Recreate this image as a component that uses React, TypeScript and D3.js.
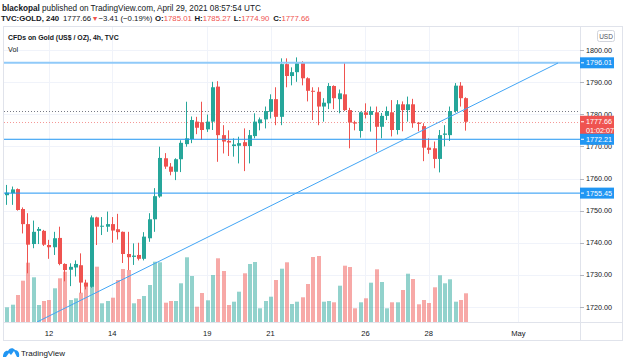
import React from "react";
import * as d3 from "d3";

// 4h candles, TVC:GOLD, Apr 9 - Apr 29 2021
const opens = [
  1754.8, 1755.4, 1756.7, 1750.5, 1745.8, 1739.6, 1743.7, 1743.7, 1739.3, 1738.6,
  1741.5, 1733.4, 1731.6, 1732.3, 1733.0, 1727.6, 1726.3, 1747.9, 1745.0, 1745.0,
  1745.8, 1744.2, 1743.4, 1736.5, 1735.6, 1736.2, 1735.0, 1741.4, 1747.3, 1754.4,
  1766.3, 1763.7, 1762.1, 1766.0, 1770.7, 1772.3, 1777.7, 1777.5, 1775.3, 1777.7,
  1788.6, 1773.5, 1771.7, 1770.1, 1770.2, 1771.3, 1770.1, 1773.2, 1777.2, 1778.4,
  1780.8, 1784.7, 1779.2, 1795.6, 1791.9, 1793.1, 1796.2, 1791.2, 1787.3, 1787.0,
  1782.4, 1783.4, 1788.8, 1784.7, 1786.2, 1781.3, 1777.5, 1774.8, 1780.6, 1779.8,
  1780.6, 1776.1, 1779.5, 1780.6, 1775.1, 1783.1, 1781.3, 1783.1, 1777.4, 1776.3,
  1769.6, 1769.4, 1766.1, 1773.6, 1773.5, 1781.0, 1788.9, 1785.01,
];
const highs = [
  1758.0, 1757.5, 1756.9, 1751.0, 1749.2, 1746.9, 1744.9, 1744.0, 1740.9, 1743.4,
  1745.0, 1733.6, 1733.6, 1734.5, 1736.7, 1728.5, 1748.5, 1748.1, 1748.0, 1749.7,
  1748.0, 1749.0, 1743.5, 1743.4, 1739.8, 1740.0, 1743.3, 1749.2, 1757.0, 1769.9,
  1767.9, 1764.8, 1766.3, 1771.9, 1783.9, 1779.3, 1779.2, 1783.9, 1779.9, 1790.1,
  1790.3, 1776.6, 1775.0, 1772.5, 1773.0, 1775.6, 1775.1, 1780.3, 1779.0, 1782.4,
  1786.2, 1788.4, 1797.4, 1797.4, 1794.6, 1797.7, 1796.5, 1791.5, 1788.4, 1788.4,
  1785.0, 1789.7, 1789.0, 1787.7, 1796.2, 1782.0, 1778.0, 1780.8, 1783.4, 1782.4,
  1782.4, 1780.4, 1782.4, 1784.4, 1784.4, 1784.0, 1785.5, 1784.8, 1777.6, 1777.2,
  1772.5, 1771.5, 1775.1, 1776.6, 1782.4, 1789.7, 1790.0, 1785.27,
];
const lows = [
  1751.8, 1751.8, 1750.0, 1742.9, 1730.5, 1738.3, 1739.6, 1739.0, 1735.0, 1736.2,
  1733.0, 1728.0, 1726.5, 1729.5, 1724.3, 1725.5, 1726.0, 1739.3, 1742.4, 1743.4,
  1740.0, 1741.0, 1733.7, 1731.5, 1733.1, 1734.5, 1734.5, 1740.3, 1743.4, 1754.0,
  1763.0, 1761.0, 1759.5, 1762.0, 1769.9, 1771.0, 1773.8, 1772.0, 1774.5, 1775.1,
  1765.2, 1767.8, 1767.0, 1766.8, 1764.7, 1762.3, 1764.7, 1772.5, 1775.0, 1775.6,
  1778.7, 1776.6, 1776.6, 1788.4, 1789.0, 1790.1, 1789.0, 1784.0, 1778.2, 1776.6,
  1777.7, 1781.6, 1781.6, 1780.3, 1781.0, 1769.4, 1775.0, 1772.7, 1778.7, 1774.6,
  1768.3, 1772.5, 1778.2, 1773.1, 1773.7, 1774.7, 1777.7, 1775.8, 1774.7, 1765.4,
  1767.7, 1763.2, 1761.9, 1770.0, 1771.7, 1780.5, 1782.4, 1774.90,
];
const closes = [
  1755.6, 1756.6, 1750.2, 1745.8, 1739.4, 1743.4, 1744.3, 1739.4, 1738.6, 1741.4,
  1733.4, 1731.5, 1732.5, 1733.4, 1727.6, 1726.3, 1747.9, 1745.0, 1745.3, 1745.8,
  1743.8, 1743.3, 1736.5, 1735.5, 1736.0, 1735.0, 1741.9, 1747.3, 1754.5, 1766.4,
  1763.7, 1762.1, 1766.0, 1771.1, 1772.5, 1778.2, 1775.8, 1775.1, 1777.7, 1788.4,
  1773.5, 1771.5, 1771.2, 1770.6, 1771.0, 1770.1, 1773.5, 1777.7, 1778.4, 1781.0,
  1784.7, 1779.2, 1795.6, 1791.9, 1793.1, 1795.9, 1791.2, 1787.3, 1787.0, 1782.4,
  1783.6, 1788.8, 1785.0, 1786.5, 1781.3, 1777.4, 1777.1, 1780.6, 1779.8, 1781.0,
  1776.1, 1779.5, 1781.0, 1775.1, 1783.1, 1781.3, 1783.1, 1777.2, 1777.0, 1769.6,
  1768.9, 1766.1, 1773.5, 1774.0, 1781.0, 1788.9, 1785.0, 1777.66,
];
// volume, thousands
const volumes = [
  14.7, 17.3, 27.0, 41.3, 59.3, 44.7, 17.0, 21.0, 22.0, 33.7,
  43.7, 50.3, 22.0, 23.7, 29.3, 35.3, 39.0, 55.3, 18.7, 21.0,
  24.3, 42.0, 53.0, 52.0, 18.7, 23.0, 26.0, 37.0, 60.3, 59.7,
  19.3, 21.0, 21.0, 38.7, 64.7, 46.0, 15.3, 29.0, 21.7, 47.0,
  63.7, 51.0, 17.0, 20.3, 30.3, 48.7, 58.0, 60.0, 13.7, 21.0,
  25.3, 42.0, 53.3, 59.7, 18.0, 20.3, 24.7, 38.0, 65.0, 66.0,
  20.3, 21.0, 19.7, 36.3, 56.3, 55.0, 13.7, 19.7, 23.7, 39.3,
  52.7, 40.0, 13.7, 19.7, 19.7, 32.0, 48.3, 43.0, 17.7, 22.0,
  19.0, 34.7, 46.7, 38.7, 42.7, 20.3, 22.0, 28.7,
];

const dayTickIndex = [8, 20, 38, 50, 68, 80, 97];
const dayTickLabels = ["12", "14", "19", "21", "26", "28", "May"];
const priceTicks = [1720, 1730, 1740, 1750, 1760, 1770, 1780, 1790, 1800];

const levelPrices = [1796.01, 1772.21, 1755.45];
const trendIndex = [5.73, 104.5];
const trendPrice = [1715.33, 1795.95];
const prevClose = 1781.07;
const lastPrice = 1777.66;
const countdown = "01:02:07";
const ohlcKeys = ["O:", "H:", "L:", "C:"];
const ohlcVals = ["1785.01", "1785.27", "1774.90", "1777.66"];

const UP = "#26a69a";
const DOWN = "#ef5350";
const FONT = "'Liberation Sans', Arial, sans-serif";
const TEXT = "#131722";

const PLOT = { left: 4, right: 580, top: 27, bottom: 322 };

const App = () => {
  const x = d3.scaleLinear().domain([0, 87]).range([6.8, 465.7]);
  const y = d3.scaleLinear().domain([1720, 1800]).range([307, 50]);
  const yv = d3.scaleLinear().domain([0, 100]).range([PLOT.bottom, PLOT.bottom - 100]);
  const fmt = d3.format(".2f");

  const trendLine = d3
    .line<number>()
    .x((d) => x(trendIndex[d]))
    .y((d) => y(trendPrice[d]));

  return (
    <div style={{ position: "fixed", left: 0, top: 0 }}>
      <svg width={625} height={363} style={{ display: "block", background: "#fff" }} fontFamily={FONT}>
        <defs>
          <clipPath id="plot">
            <rect x={PLOT.left} y={PLOT.top} width={PLOT.right - PLOT.left} height={PLOT.bottom - PLOT.top} />
          </clipPath>
        </defs>

        {/* header */}
        <text x={2} y={10.5} fontSize={8.2} fill={TEXT}>
          <tspan fontWeight="bold">blackopal</tspan> published on TradingView.com, April 29, 2021 08:57:54 UTC
        </text>
        <g fontSize={7.8} fill={TEXT}>
          <text x={1} y={21} fontWeight="bold">TVC:GOLD, 240</text>
          <text x={63} y={21}>{fmt(lastPrice)}</text>
          <text x={91.5} y={21} fill={DOWN} fontSize={7.2}>▼</text>
          <text x={98.5} y={21}>−3.41 (−0.19%)</text>
          {ohlcKeys.map((k, i) => (
            <text key={k} x={155 + i * 39.4} y={21}>
              <tspan fontWeight="bold">{k}</tspan>
              <tspan fill={DOWN}>{ohlcVals[i]}</tspan>
            </text>
          ))}
        </g>

        {/* frame */}
        <rect x={PLOT.left - 0.5} y={PLOT.top - 0.5} width={623 - PLOT.left} height={341 - PLOT.top} fill="none" stroke="#e0e3eb" />
        <line x1={PLOT.left} x2={623} y1={PLOT.bottom + 0.5} y2={PLOT.bottom + 0.5} stroke="#e0e3eb" />
        <line x1={PLOT.right + 0.5} x2={PLOT.right + 0.5} y1={PLOT.top} y2={341} stroke="#e0e3eb" />

        {/* grid */}
        {priceTicks.map((p) => (
          <line key={"hg" + p} x1={PLOT.left} x2={PLOT.right} y1={Math.round(y(p)) + 0.5} y2={Math.round(y(p)) + 0.5} stroke="#f0f3fa" />
        ))}
        {dayTickIndex.map((i) => (
          <line key={"vg" + i} x1={Math.round(x(i)) + 0.5} x2={Math.round(x(i)) + 0.5} y1={PLOT.top} y2={PLOT.bottom} stroke="#f0f3fa" />
        ))}

        <g clipPath="url(#plot)">
          {/* volume */}
          {volumes.map((v, i) => (
            <rect
              key={"v" + i}
              x={Math.floor(x(i)) - 1}
              y={yv(v)}
              width={4}
              height={PLOT.bottom - yv(v)}
              fill={closes[i] >= opens[i] ? UP : DOWN}
              fillOpacity={0.5}
            />
          ))}

          {/* previous close & last price lines */}
          <line x1={PLOT.left} x2={PLOT.right} y1={Math.round(y(prevClose)) + 0.5} y2={Math.round(y(prevClose)) + 0.5} stroke="#787b86" strokeDasharray="1,2" />
          <line x1={PLOT.left} x2={PLOT.right} y1={Math.round(y(lastPrice)) + 0.5} y2={Math.round(y(lastPrice)) + 0.5} stroke={DOWN} strokeOpacity={0.6} strokeDasharray="1,2" />

          {/* candles */}
          {opens.map((o, i) => {
            const c = closes[i];
            const col = c >= o ? UP : DOWN;
            const cx = Math.floor(x(i));
            const top = y(Math.max(o, c));
            const h = Math.max(1, Math.abs(y(o) - y(c)));
            return (
              <g key={"c" + i} fill={col}>
                <rect x={cx} y={y(highs[i])} width={1} height={y(lows[i]) - y(highs[i])} />
                <rect x={cx - 1} y={top} width={4} height={h} />
              </g>
            );
          })}

          {/* drawings */}
          {levelPrices.map((p, k) => (
            <line
              key={"lv" + p}
              x1={PLOT.left}
              x2={PLOT.right}
              y1={y(p)}
              y2={y(p)}
              stroke={k === 0 ? "#90caf9" : "#2196f3"}
              strokeWidth={k === 0 ? 2 : 1}
            />
          ))}
          <path d={trendLine([0, 1]) ?? ""} fill="none" stroke="#42a5f5" strokeWidth={1} />
        </g>

        {/* legend */}
        <text x={8} y={39.5} fontSize={6.9} fontWeight="bold" fill={TEXT}>
          CFDs on Gold (US$ / OZ), 4h, TVC
        </text>
        <text x={8} y={52} fontSize={7.2} fill={TEXT}>
          Vol
        </text>

        {/* price axis */}
        <rect x={597.5} y={30.5} width={17} height={11} rx={2} fill="#fff" stroke="#d1d4dc" />
        <text x={606} y={38.7} fontSize={6.5} textAnchor="middle" fill="#50535e">
          USD
        </text>
        {priceTicks.map((p) => (
          <g key={"pt" + p}>
            <line x1={PLOT.right} x2={PLOT.right + 4} y1={Math.round(y(p)) + 0.5} y2={Math.round(y(p)) + 0.5} stroke="#b2b5be" />
            <text x={586} y={y(p) + 2.6} fontSize={7.2} fill={TEXT}>
              {fmt(p)}
            </text>
          </g>
        ))}

        {/* last price label */}
        <g>
          <rect x={PLOT.right} y={y(lastPrice) - 6} width={34} height={20} fill={DOWN} />
          <line x1={PLOT.right + 1} x2={PLOT.right + 4} y1={y(lastPrice)} y2={y(lastPrice)} stroke="#fff" />
          <text x={586} y={y(lastPrice) + 2.6} fontSize={7.2} fill="#fff">
            {fmt(lastPrice)}
          </text>
          <text x={586} y={y(lastPrice) + 11.3} fontSize={7.2} fill="#fff">
            {countdown}
          </text>
        </g>

        {levelPrices.map((p) => (
          <g key={"lb" + p}>
            <rect x={PLOT.right} y={y(p) - 5.5} width={34} height={11} fill="#2196f3" />
            <line x1={PLOT.right + 1} x2={PLOT.right + 4} y1={y(p)} y2={y(p)} stroke="#fff" />
            <text x={586} y={y(p) + 2.6} fontSize={7.2} fill="#fff">
              {fmt(p)}
            </text>
          </g>
        ))}

        {/* time axis */}
        {dayTickIndex.map((i, k) => (
          <text key={"tl" + i} x={x(i)} y={336} fontSize={7.6} textAnchor="middle" fill={TEXT}>
            {dayTickLabels[k]}
          </text>
        ))}

        {/* footer logo */}
        <path d="M3,357 C3,352 6,350 8,351 C9,348 13,347 15,350 C18,350 20,353 19,357 Z" fill="#2196f3" />
        <path d="M6,357 L9,353 L11,355 L14,351 L17,357 Z" fill="#fff" />
        <text x={21} y={356} fontSize={8} fill={TEXT}>
          TradingView
        </text>
      </svg>
    </div>
  );
};

export default App;
